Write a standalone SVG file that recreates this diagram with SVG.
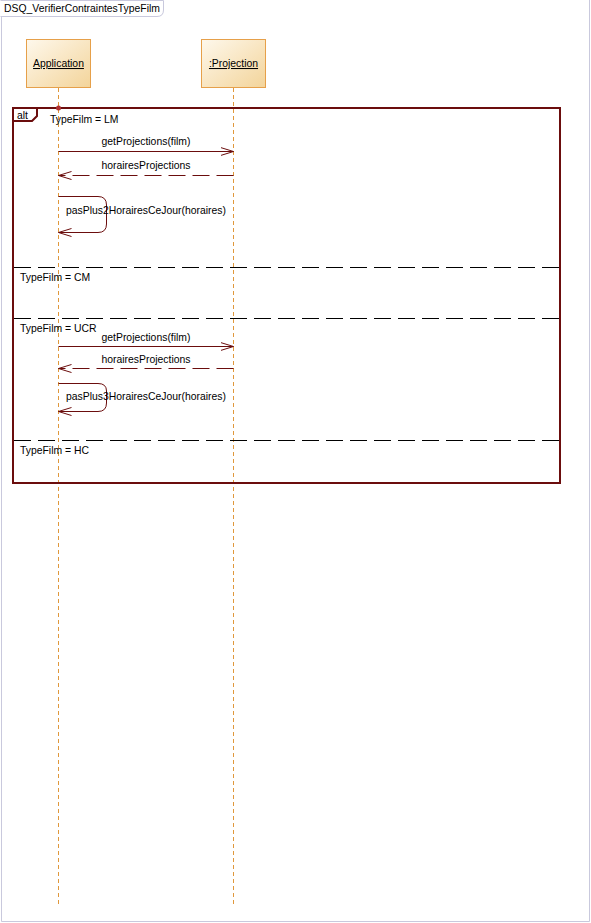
<svg xmlns="http://www.w3.org/2000/svg" width="591" height="923" viewBox="0 0 591 923">
<defs>
<linearGradient id="lifeGrad" x1="0" y1="0" x2="1" y2="1">
<stop offset="0" stop-color="#fef8ec"/>
<stop offset="1" stop-color="#f3d49a"/>
</linearGradient>
<marker id="open" viewBox="0 0 14 10" refX="13" refY="5" markerWidth="14" markerHeight="10" markerUnits="userSpaceOnUse" orient="auto">
<path d="M0,1 L13,5 L0,9" fill="none" stroke="#6b0d0d" stroke-width="1"/>
</marker>
</defs>
<style>
text{font-family:"Liberation Sans",Arial,sans-serif;font-size:10.4px;fill:#000}
.head{fill:url(#lifeGrad);stroke:#e6a04a;stroke-width:1}
.life{stroke:#e0983c;stroke-width:1;stroke-dasharray:4,3;fill:none}
.msg{stroke:#6b0d0d;stroke-width:1;fill:none}
.ret{stroke:#6b0d0d;stroke-width:1;fill:none;stroke-dasharray:17,7}
.frame{stroke:#6b0d0d;stroke-width:2;fill:none}
.sep{stroke:#000;stroke-width:1;stroke-dasharray:17,7}
</style>
<rect x="0" y="0" width="591" height="923" fill="#fff"/>
<path d="M1.5,0 V921.5 H589.5 V0" fill="none" stroke="#c9c9dd" stroke-width="1"/>
<g id="title">
<path d="M0.5,0.5 H163.5 V10 Q163.5,16.5 157,16.5 H0.5" fill="#fff" stroke="#c9c9dd" stroke-width="1"/>
<text x="4" y="12">DSQ_VerifierContraintesTypeFilm</text>
</g>
<g id="Application">
<line class="life" x1="58.5" y1="88" x2="58.5" y2="907"/>
<rect class="head" x="26.5" y="39.5" width="64" height="48"/>
<text x="58.5" y="67" text-anchor="middle" text-decoration="underline">Application</text>
</g>
<g id="Projection">
<line class="life" x1="233.5" y1="88" x2="233.5" y2="907"/>
<rect class="head" x="201.5" y="39.5" width="64" height="48"/>
<text x="233.5" y="67" text-anchor="middle" text-decoration="underline">:Projection</text>
</g>
<g id="alt">
<rect class="frame" x="13" y="108" width="547" height="375"/>
<path d="M13,121 H32 L37,116 V108" fill="none" stroke="#6b0d0d" stroke-width="2"/>
<text x="17" y="119">alt</text>
<circle cx="58.5" cy="108" r="2.5" fill="#b03030"/>
<text x="50" y="123">TypeFilm = LM</text>
<line class="sep" x1="14" y1="267.5" x2="559" y2="267.5"/>
<text x="20" y="281">TypeFilm = CM</text>
<line class="sep" x1="14" y1="318.5" x2="559" y2="318.5"/>
<text x="20" y="332">TypeFilm = UCR</text>
<line class="sep" x1="14" y1="440.5" x2="559" y2="440.5"/>
<text x="20" y="454">TypeFilm = HC</text>
</g>
<g id="connectors">
<line class="msg" x1="58.5" y1="151.5" x2="233.5" y2="151.5" marker-end="url(#open)"/>
<text x="146" y="145" text-anchor="middle">getProjections(film)</text>
<line class="ret" x1="233.5" y1="175.5" x2="58.5" y2="175.5" marker-end="url(#open)"/>
<text x="146" y="169" text-anchor="middle">horairesProjections</text>
<path class="msg" d="M58.5,196.5 H98 Q106.5,196.5 106.5,205 V224 Q106.5,232.5 98,232.5 H58.5" marker-end="url(#open)"/>
<text x="66" y="214">pasPlus2HorairesCeJour(horaires)</text>
<line class="msg" x1="58.5" y1="346.5" x2="233.5" y2="346.5" marker-end="url(#open)"/>
<text x="146" y="341" text-anchor="middle">getProjections(film)</text>
<line class="ret" x1="233.5" y1="368.5" x2="58.5" y2="368.5" marker-end="url(#open)"/>
<text x="146" y="363" text-anchor="middle">horairesProjections</text>
<path class="msg" d="M58.5,383.5 H98 Q106.5,383.5 106.5,391 V403 Q106.5,411.5 98,411.5 H58.5" marker-end="url(#open)"/>
<text x="66" y="400">pasPlus3HorairesCeJour(horaires)</text>
</g>
</svg>
